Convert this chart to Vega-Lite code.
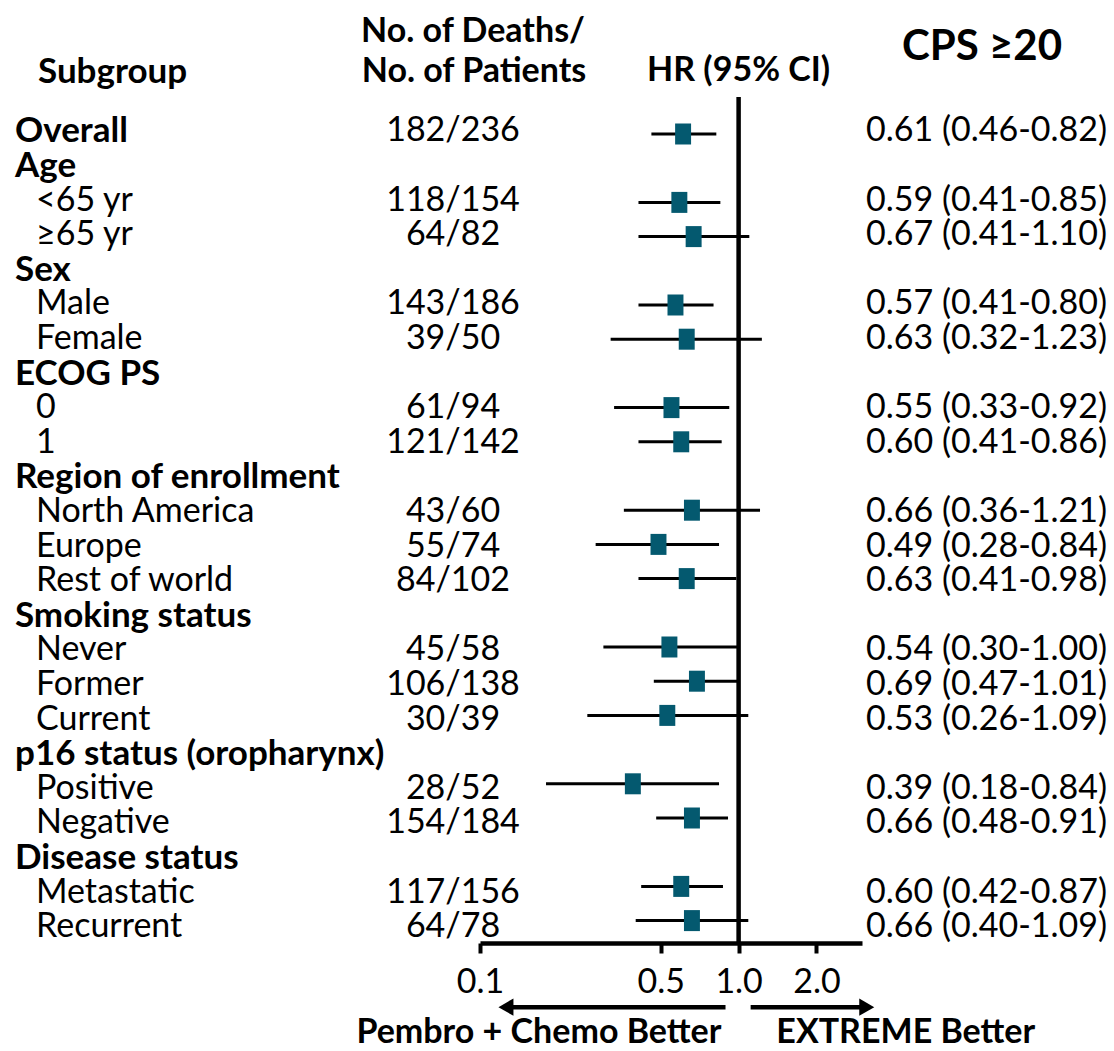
{
  "$schema": "https://vega.github.io/schema/vega-lite/v6.json",
  "background": "white",
  "padding": 0,
  "spacing": 0,
  "bounds": "flush",
  "config": {
    "view": {"stroke": null},
    "font": "Lato",
    "text": {"font": "Lato", "fontSize": 34, "color": "black", "baseline": "middle"}
  },
  "datasets": {
    "subgroups": [
      {"row": 0, "label": "Overall", "level": "group", "n": "182/236", "hr": 0.61, "lo": 0.46, "hi": 0.82},
      {"row": 1, "label": "Age", "level": "group"},
      {"row": 2, "label": "<65 yr", "level": "item", "n": "118/154", "hr": 0.59, "lo": 0.41, "hi": 0.85},
      {"row": 3, "label": "≥65 yr", "level": "item", "n": "64/82", "hr": 0.67, "lo": 0.41, "hi": 1.10},
      {"row": 4, "label": "Sex", "level": "group"},
      {"row": 5, "label": "Male", "level": "item", "n": "143/186", "hr": 0.57, "lo": 0.41, "hi": 0.80},
      {"row": 6, "label": "Female", "level": "item", "n": "39/50", "hr": 0.63, "lo": 0.32, "hi": 1.23},
      {"row": 7, "label": "ECOG PS", "level": "group"},
      {"row": 8, "label": "0", "level": "item", "n": "61/94", "hr": 0.55, "lo": 0.33, "hi": 0.92},
      {"row": 9, "label": "1", "level": "item", "n": "121/142", "hr": 0.60, "lo": 0.41, "hi": 0.86},
      {"row": 10, "label": "Region of enrollment", "level": "group"},
      {"row": 11, "label": "North America", "level": "item", "n": "43/60", "hr": 0.66, "lo": 0.36, "hi": 1.21},
      {"row": 12, "label": "Europe", "level": "item", "n": "55/74", "hr": 0.49, "lo": 0.28, "hi": 0.84},
      {"row": 13, "label": "Rest of world", "level": "item", "n": "84/102", "hr": 0.63, "lo": 0.41, "hi": 0.98},
      {"row": 14, "label": "Smoking status", "level": "group"},
      {"row": 15, "label": "Never", "level": "item", "n": "45/58", "hr": 0.54, "lo": 0.30, "hi": 1.00},
      {"row": 16, "label": "Former", "level": "item", "n": "106/138", "hr": 0.69, "lo": 0.47, "hi": 1.01},
      {"row": 17, "label": "Current", "level": "item", "n": "30/39", "hr": 0.53, "lo": 0.26, "hi": 1.09},
      {"row": 18, "label": "p16 status (oropharynx)", "level": "group"},
      {"row": 19, "label": "Positive", "level": "item", "n": "28/52", "hr": 0.39, "lo": 0.18, "hi": 0.84},
      {"row": 20, "label": "Negative", "level": "item", "n": "154/184", "hr": 0.66, "lo": 0.48, "hi": 0.91},
      {"row": 21, "label": "Disease status", "level": "group"},
      {"row": 22, "label": "Metastatic", "level": "item", "n": "117/156", "hr": 0.60, "lo": 0.42, "hi": 0.87},
      {"row": 23, "label": "Recurrent", "level": "item", "n": "64/78", "hr": 0.66, "lo": 0.40, "hi": 1.09}
    ]
  },
  "hconcat": [
    {
      "width": 480,
      "height": 943,
      "layer": [
        {
          "data": {"name": "subgroups"},
          "transform": [{"filter": "datum.level === 'group'"}],
          "mark": {"type": "text", "align": "left", "fontWeight": "bold", "fontSize": 35},
          "encoding": {
            "text": {"field": "label"},
            "x": {"value": 15},
            "y": {"field": "row", "type": "quantitative", "scale": {"domain": [23.454, -3.80], "nice": false}, "axis": null}
          }
        },
        {
          "data": {"name": "subgroups"},
          "transform": [{"filter": "datum.level === 'item'"}],
          "mark": {"type": "text", "align": "left"},
          "encoding": {
            "text": {"field": "label"},
            "x": {"value": 36},
            "y": {"field": "row", "type": "quantitative"}
          }
        },
        {
          "data": {"name": "subgroups"},
          "transform": [{"filter": "isValid(datum.n)"}],
          "mark": {"type": "text", "align": "center"},
          "encoding": {
            "text": {"field": "n"},
            "x": {"value": 453},
            "y": {"field": "row", "type": "quantitative"}
          }
        },
        {
          "data": {"values": [{"t": "Subgroup"}]},
          "mark": {"type": "text", "align": "left", "fontWeight": "bold", "fontSize": 35},
          "encoding": {"text": {"field": "t"}, "x": {"value": 38}, "y": {"datum": -1.72}}
        },
        {
          "data": {"values": [{"t": "No. of Deaths/"}]},
          "mark": {"type": "text", "align": "center", "fontWeight": "bold"},
          "encoding": {"text": {"field": "t"}, "x": {"value": 473}, "y": {"datum": -2.876}}
        },
        {
          "data": {"values": [{"t": "No. of Patients"}]},
          "mark": {"type": "text", "align": "center", "fontWeight": "bold"},
          "encoding": {"text": {"field": "t"}, "x": {"value": 474}, "y": {"datum": -1.72}}
        }
      ]
    },
    {
      "width": 382,
      "height": 943,
      "layer": [
        {
          "data": {"values": [{"ref": 1}]},
          "mark": {"type": "rule", "strokeWidth": 4.5, "color": "black"},
          "encoding": {
            "x": {"field": "ref", "type": "quantitative", "scale": {"type": "log", "domain": [0.1, 3.0], "nice": false},
              "axis": {"values": [0.1, 0.5, 1, 2], "format": ".1f", "title": null, "grid": false,
                "domainColor": "black", "domainWidth": 4.5, "tickColor": "black", "tickWidth": 4, "tickSize": 10,
                "labelFont": "Lato", "labelFontSize": 34, "labelColor": "black", "labelPadding": 12, "labelFlush": false}},
            "y": {"datum": -1.08, "type": "quantitative", "scale": {"domain": [23.655, -3.918], "nice": false}, "axis": null},
            "y2": {"datum": 23.655}
          }
        },
        {
          "data": {"name": "subgroups"},
          "transform": [{"filter": "isValid(datum.hr)"}],
          "mark": {"type": "rule", "strokeWidth": 3, "color": "black"},
          "encoding": {
            "x": {"field": "lo", "type": "quantitative"},
            "x2": {"field": "hi"},
            "y": {"field": "row", "type": "quantitative"}
          }
        },
        {
          "data": {"name": "subgroups"},
          "transform": [{"filter": "isValid(datum.hr)"}],
          "mark": {"type": "point", "shape": "M-0.76,-1H0.76V1H-0.76Z", "filled": true, "opacity": 1, "size": 441, "color": "#04596f"},
          "encoding": {
            "x": {"field": "hr", "type": "quantitative"},
            "y": {"field": "row", "type": "quantitative"}
          }
        },
        {
          "data": {"values": [{"t": "HR (95% CI)"}]},
          "mark": {"type": "text", "align": "center", "fontWeight": "bold"},
          "encoding": {"text": {"field": "t"}, "x": {"datum": 1}, "y": {"datum": -1.85}}
        },
        {
          "data": {"values": [{"from": 0.89, "to": 0.128}, {"from": 1.113, "to": 3.0}]},
          "mark": {"type": "rule", "strokeWidth": 4.5, "color": "black"},
          "encoding": {"x": {"field": "from", "type": "quantitative"}, "x2": {"field": "to"}, "y": {"datum": 25.53}}
        },
        {
          "data": {"values": [{"tip": 0.126}]},
          "mark": {"type": "point", "shape": "triangle-left", "filled": true, "opacity": 1, "size": 300, "color": "black"},
          "encoding": {"x": {"field": "tip", "type": "quantitative"}, "y": {"datum": 25.53}}
        },
        {
          "data": {"values": [{"tip": 3.13}]},
          "mark": {"type": "point", "shape": "triangle-right", "filled": true, "opacity": 1, "size": 300, "color": "black"},
          "encoding": {"x": {"field": "tip", "type": "quantitative"}, "y": {"datum": 25.53}}
        },
        {
          "data": {"values": [{"t": "Pembro + Chemo Better", "at": 0.169}, {"t": "EXTREME Better", "at": 4.43}]},
          "mark": {"type": "text", "align": "center", "fontWeight": "bold"},
          "encoding": {"text": {"field": "t"}, "x": {"field": "at", "type": "quantitative"}, "y": {"datum": 26.3}}
        }
      ]
    },
    {
      "width": 252,
      "height": 943,
      "layer": [
        {
          "data": {"name": "subgroups"},
          "transform": [
            {"filter": "isValid(datum.hr)"},
            {"calculate": "format(datum.hr, '.2f') + ' (' + format(datum.lo, '.2f') + '-' + format(datum.hi, '.2f') + ')'", "as": "estimate"}
          ],
          "mark": {"type": "text", "align": "left"},
          "encoding": {
            "text": {"field": "estimate"},
            "x": {"value": 4},
            "y": {"field": "row", "type": "quantitative", "scale": {"domain": [23.454, -3.80], "nice": false}, "axis": null}
          }
        },
        {
          "data": {"values": [{"t": "CPS ≥20"}]},
          "mark": {"type": "text", "align": "center", "fontWeight": "bold", "fontSize": 42},
          "encoding": {"text": {"field": "t"}, "x": {"value": 120}, "y": {"datum": -2.44}}
        }
      ]
    }
  ]
}
